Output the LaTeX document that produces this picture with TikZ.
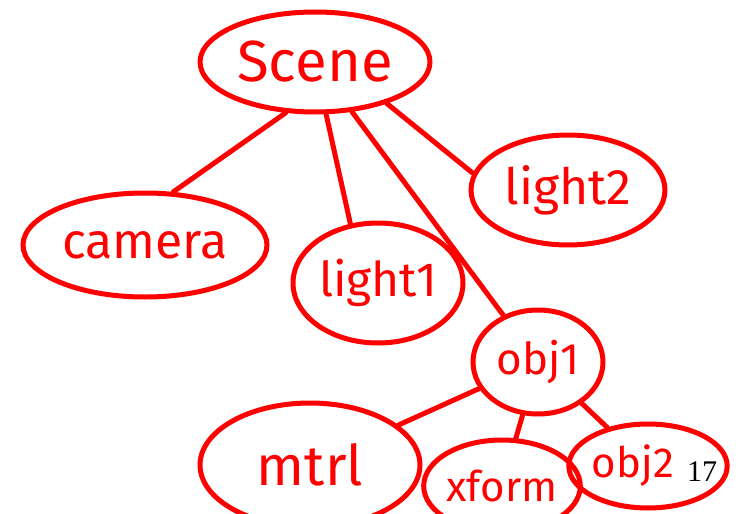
\documentclass[tikz,border=0pt]{standalone}
\usepackage{fontspec}
\setmainfont{Liberation Serif}
\newfontfamily\handfont{Fira Sans}
\usetikzlibrary{shapes.geometric}
\definecolor{ink}{RGB}{255,0,0}
\newcommand{\handsz}[1]{\handfont\fontsize{#1}{#1}\selectfont}
\begin{document}
\begin{tikzpicture}[x=1pt,y=-1pt,
  blob/.style={ellipse,draw=ink,line width=5pt,inner sep=0pt,text=ink},
  link/.style={draw=ink,line width=5pt,line cap=round}]
\useasboundingbox (0,0) rectangle (740,514);
\node[blob,minimum width=230pt,minimum height=100pt,font=\handsz{58}] (scene) at (315,62) {Scene};
\node[blob,minimum width=244pt,minimum height=104pt,font=\handsz{50}] (camera) at (145,245) {camera};
\node[blob,minimum width=170pt,minimum height=120pt,font=\handsz{48}] (light1) at (378,283) {light1};
\node[blob,minimum width=194pt,minimum height=110pt,font=\handsz{50}] (light2) at (568,190) {light2};
\node[blob,minimum width=130pt,minimum height=104pt,font=\handsz{44}] (obj1) at (538,362) {obj1};
\node[blob,minimum width=220pt,minimum height=124pt,font=\handsz{56}] (mtrl) at (310,465) {mtrl};
\node[blob,minimum width=130pt,minimum height=92pt,font=\handsz{42}] (xform) at (502,486) {xform};
\node[blob,minimum width=156pt,minimum height=84pt,font=\handsz{42}] (obj2) at (648,466) {obj2\hspace*{30pt}};
\node[font=\fontsize{30}{30}\selectfont,text=black,inner sep=0pt] (pg) at (702,472) {17};
\draw[link] (scene.240) -- (camera.62);
\draw[link] (scene.-78) -- (light1.115);
\draw[link] (scene) -- (obj1);
\draw[link] (scene.-30) -- (light2.170);
\draw[link] (obj1) -- (mtrl);
\draw[link] (obj1) -- (xform);
\draw[link] (obj1) -- (obj2);
\end{tikzpicture}
\end{document}
